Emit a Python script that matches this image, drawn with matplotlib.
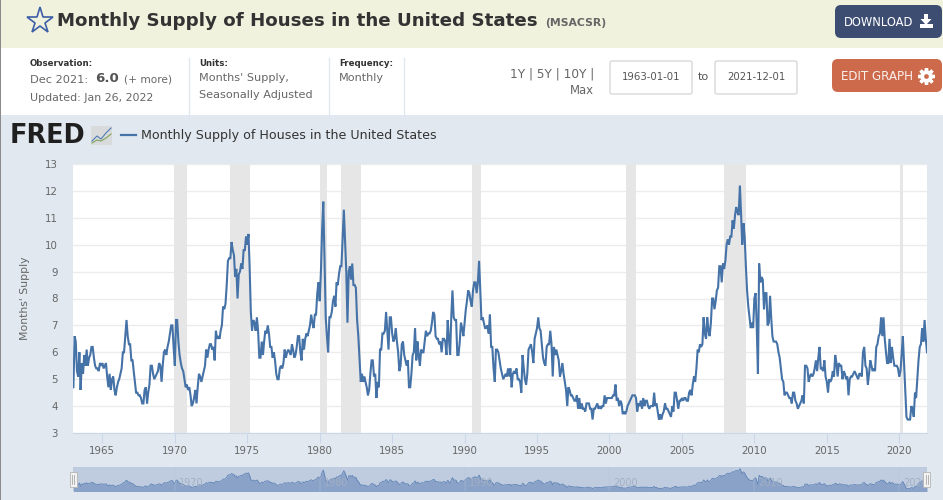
#!/usr/bin/env python3
"""
FRED page: Monthly Supply of Houses in the United States (MSACSR)
"""

import matplotlib
matplotlib.use('Agg')
import matplotlib.pyplot as plt
import matplotlib.dates as mdates
from matplotlib.patches import FancyBboxPatch, Rectangle, Polygon
import numpy as np
import pandas as pd

# values, one row per year
supply_rows = [
    [4.7, 6.6, 6.4, 5.3, 5.1, 6.0, 4.6, 5.6, 5.2, 5.9, 5.5, 6.1],  # 1963
    [5.5, 5.8, 5.9, 6.2, 6.2, 5.8, 5.5, 5.4, 5.4, 5.3, 5.6, 5.5],
    [5.6, 5.4, 5.5, 5.6, 5.1, 4.7, 5.2, 4.6, 5.0, 5.1, 4.6, 4.4],  # 1965
    [4.7, 4.9, 5.0, 5.2, 5.4, 6.0, 6.0, 6.6, 7.2, 6.6, 6.3, 6.3],
    [5.7, 5.7, 5.3, 4.9, 4.5, 4.5, 4.4, 4.4, 4.3, 4.1, 4.1, 4.6],
    [4.7, 4.1, 4.5, 4.8, 5.5, 5.5, 5.2, 5.0, 5.1, 5.2, 5.3, 5.6],
    [5.5, 4.9, 5.5, 6.0, 6.1, 5.9, 6.2, 6.4, 6.7, 7.0, 7.0, 6.2],
    [5.5, 7.2, 7.2, 6.4, 5.9, 5.6, 5.4, 5.3, 5.0, 4.7, 4.8, 4.6],  # 1970
    [4.7, 4.4, 4.0, 4.1, 4.3, 4.6, 4.1, 4.7, 5.2, 5.1, 4.9, 5.1],
    [5.3, 5.5, 6.1, 5.8, 6.1, 6.3, 6.3, 6.1, 6.2, 5.7, 6.8, 6.5],
    [6.6, 6.5, 6.8, 7.0, 7.7, 7.6, 7.8, 8.5, 9.4, 9.5, 9.5, 10.1],
    [9.8, 9.6, 8.8, 9.1, 8.0, 8.9, 9.0, 9.3, 9.1, 9.8, 9.8, 10.3],
    [10.0, 10.4, 9.2, 7.5, 6.8, 7.2, 7.1, 6.8, 7.3, 6.8, 5.8, 5.8],  # 1975
    [6.4, 5.9, 6.4, 6.8, 6.7, 7.0, 6.7, 6.2, 6.2, 5.8, 6.0, 5.7],
    [5.2, 5.0, 5.0, 5.4, 5.5, 5.4, 5.6, 6.1, 5.8, 6.0, 6.1, 6.0],
    [5.9, 6.3, 6.1, 5.8, 5.9, 6.2, 6.6, 6.6, 6.0, 5.7, 6.5, 6.1],
    [6.5, 6.7, 6.6, 6.8, 7.0, 7.4, 7.1, 6.9, 7.4, 7.4, 8.2, 8.6],
    [7.9, 9.0, 10.5, 11.6, 9.5, 7.3, 6.6, 6.0, 7.3, 7.3, 7.5, 7.9],  # 1980
    [8.1, 7.7, 8.6, 8.5, 8.9, 9.2, 9.2, 10.2, 11.3, 10.2, 9.0, 7.1],
    [9.0, 9.2, 8.7, 9.3, 8.5, 8.5, 8.4, 7.2, 6.6, 5.8, 4.9, 5.2],
    [4.9, 5.1, 4.9, 4.7, 4.4, 4.6, 5.2, 5.7, 5.7, 5.1, 5.2, 4.3],
    [4.9, 4.7, 6.1, 6.1, 6.7, 6.7, 6.8, 7.5, 6.8, 6.1, 7.3, 7.3],
    [6.7, 6.4, 6.5, 6.9, 6.4, 6.0, 5.3, 5.5, 6.3, 6.4, 5.9, 5.7],  # 1985
    [5.5, 5.7, 4.7, 4.7, 5.2, 5.9, 6.0, 6.9, 5.7, 6.4, 5.9, 5.5],
    [6.1, 6.0, 6.0, 6.4, 6.8, 6.6, 6.7, 6.7, 6.8, 7.1, 7.5, 7.4],
    [6.6, 6.5, 6.5, 6.3, 6.4, 6.0, 6.5, 6.5, 6.4, 5.9, 7.2, 6.5],
    [5.9, 7.4, 8.3, 7.3, 7.2, 7.2, 5.9, 5.9, 6.4, 7.1, 6.9, 6.6],
    [7.1, 7.6, 7.9, 8.3, 8.2, 7.9, 7.7, 8.3, 8.6, 8.6, 8.2, 8.6],  # 1990
    [9.4, 8.3, 7.2, 7.3, 7.1, 6.9, 6.9, 7.0, 6.7, 7.4, 6.2, 6.2],
    [5.4, 4.9, 6.1, 6.1, 6.0, 5.7, 5.4, 5.2, 5.0, 5.1, 5.2, 5.1],
    [5.4, 5.1, 5.4, 4.7, 5.2, 5.3, 5.2, 5.4, 5.0, 5.0, 4.9, 4.5],
    [5.9, 5.4, 5.0, 4.8, 5.2, 6.1, 6.2, 6.3, 6.0, 5.6, 6.5, 6.7],
    [6.9, 7.3, 6.9, 6.8, 6.3, 5.8, 5.6, 5.5, 6.2, 6.3, 6.3, 6.8],  # 1995
    [6.3, 5.1, 6.2, 5.9, 6.1, 5.9, 5.7, 5.1, 5.3, 5.6, 5.2, 4.9],
    [4.6, 4.0, 4.7, 4.6, 4.4, 4.4, 4.3, 4.2, 4.2, 4.4, 3.9, 4.3],
    [3.9, 4.1, 3.9, 3.9, 3.8, 4.1, 4.1, 4.1, 3.9, 3.9, 3.5, 3.9],
    [3.9, 4.0, 4.1, 3.9, 4.0, 3.9, 4.0, 4.0, 4.4, 4.1, 4.3, 4.3],
    [4.3, 4.3, 4.3, 4.4, 4.4, 4.8, 4.2, 4.3, 4.0, 4.2, 4.1, 3.7],  # 2000
    [3.8, 3.7, 3.8, 4.0, 4.1, 4.2, 4.3, 4.4, 4.4, 4.4, 4.3, 3.8],
    [4.1, 4.0, 4.2, 3.9, 4.3, 4.0, 4.2, 4.2, 4.0, 3.9, 4.0, 4.0],
    [4.0, 4.5, 4.0, 4.1, 3.8, 3.5, 3.7, 3.5, 3.7, 3.8, 4.1, 3.9],
    [3.9, 3.8, 3.7, 3.6, 4.0, 3.8, 4.5, 4.5, 4.2, 3.9, 4.2, 4.2],
    [4.3, 4.2, 4.3, 4.3, 4.2, 4.2, 4.5, 4.6, 4.4, 4.8, 5.1, 4.9],  # 2005
    [5.4, 6.1, 6.0, 6.3, 6.2, 6.3, 7.3, 6.7, 6.5, 7.3, 6.8, 6.6],
    [7.1, 8.0, 8.0, 7.6, 7.9, 8.3, 8.4, 9.2, 9.2, 8.6, 9.3, 9.1],
    [9.4, 10.0, 10.2, 10.0, 10.3, 10.3, 10.9, 10.6, 11.1, 11.4, 11.2, 11.1],
    [12.2, 11.1, 10.0, 10.8, 10.3, 9.2, 8.3, 7.7, 7.3, 6.9, 7.1, 6.9],
    [8.0, 8.2, 7.0, 5.2, 9.3, 8.6, 8.8, 8.7, 7.6, 8.2, 8.2, 7.0],  # 2010
    [7.1, 8.1, 7.3, 6.6, 6.4, 6.4, 6.4, 6.3, 6.0, 5.8, 5.4, 5.0],
    [4.9, 4.4, 4.5, 4.5, 4.4, 4.3, 4.3, 4.1, 4.5, 4.5, 4.2, 4.1],
    [3.9, 4.0, 4.1, 4.2, 4.4, 4.1, 5.5, 5.5, 5.4, 4.9, 5.1, 5.2],
    [5.1, 5.2, 5.4, 5.7, 5.3, 5.8, 6.2, 5.4, 5.4, 5.3, 5.7, 5.1],
    [4.9, 4.5, 5.0, 4.9, 5.0, 5.3, 5.1, 5.9, 5.6, 5.1, 5.6, 5.5],  # 2015
    [5.5, 5.0, 5.3, 5.2, 5.0, 5.1, 4.4, 5.0, 5.1, 5.1, 5.2, 5.3],
    [5.2, 5.1, 5.0, 5.2, 5.2, 5.1, 6.0, 6.2, 5.5, 5.4, 4.8, 5.2],
    [5.7, 5.5, 5.3, 5.4, 5.3, 6.2, 6.3, 6.6, 6.7, 7.3, 6.6, 7.3],
    [6.5, 6.0, 5.6, 5.6, 6.5, 5.6, 6.2, 5.8, 5.5, 5.5, 5.5, 5.4],
    [5.1, 5.3, 5.9, 6.6, 5.6, 4.5, 3.6, 3.5, 3.5, 3.5, 4.0, 3.9],  # 2020
    [3.6, 4.5, 4.3, 5.0, 5.7, 6.2, 6.3, 6.9, 6.4, 7.2, 6.5, 6.0],
]
recession_starts = ['1969-12-01', '1973-11-01', '1980-01-01', '1981-07-01',
                    '1990-07-01', '2001-03-01', '2007-12-01', '2020-02-01']
recession_ends = ['1970-11-01', '1975-03-01', '1980-07-01', '1982-11-01',
                  '1991-03-01', '2001-11-01', '2009-06-01', '2020-04-01']
y_ticks = [3, 4, 5, 6, 7, 8, 9, 10, 11, 12, 13]
main_years = [1965, 1970, 1975, 1980, 1985, 1990, 1995, 2000, 2005, 2010, 2015, 2020]
nav_years = [1970, 1980, 1990, 2000, 2010, 2020]

supply = np.concatenate(supply_rows)
dates = pd.date_range('1963-01-01', periods=len(supply), freq='MS')

W, H = 943, 500
LINE = '#4572a7'
GREY = '#666666'
PANEL = '#e1e8f0'

fig = plt.figure(figsize=(W / 100, H / 100), dpi=100, facecolor='white')

# page chrome drawn in pixel coordinates
page = fig.add_axes([0, 0, 1, 1])
page.set_xlim(0, W)
page.set_ylim(H, 0)
page.axis('off')

page.add_patch(Rectangle((0, 0), W, 48, facecolor='#f1f2de', edgecolor='none'))
page.add_patch(Rectangle((0, 115), W, 385, facecolor=PANEL, edgecolor='none'))
page.add_patch(Rectangle((0, 0), 1, H, facecolor='#8a8a8a', edgecolor='none'))

# title bar
page.plot([40], [21], marker='*', ms=20, mfc='none', mec='#3b5ea6', mew=1.2)
page.text(57, 21, 'Monthly Supply of Houses in the United States', fontsize=13.15,
          fontweight='bold', color='#333333', va='center')
page.text(545, 23.5, '(MSACSR)', fontsize=7.8, fontweight='bold', color='#666666', va='center')


def button(x, y, w, h, color):
    page.add_patch(FancyBboxPatch((x + 6, y + 6), w - 12, h - 12,
                                  boxstyle='round,pad=6', facecolor=color, edgecolor='none'))


button(835, 5, 107, 33, '#3d4d72')
page.text(844, 22, 'DOWNLOAD', fontsize=8.3, color='white', va='center')
page.add_patch(Polygon([[924, 14], [928, 14], [928, 19], [931.5, 19], [926, 25], [920.5, 19], [924, 19]],
                       facecolor='white', edgecolor='none'))
page.add_patch(Rectangle((919.5, 24), 13, 4, facecolor='white', edgecolor='none'))

# observation block
page.text(30, 63, 'Observation:', fontsize=6.2, fontweight='bold', color='#333333', va='center')
page.text(30, 80, 'Dec 2021:', fontsize=8.2, color=GREY, va='center')
page.text(95.5, 79, '6.0', fontsize=9.6, fontweight='bold', color='#555555', va='center')
page.text(124, 80, '(+ more)', fontsize=7.6, color=GREY, va='center')
page.text(30, 98, 'Updated: Jan 26, 2022', fontsize=7.9, color=GREY, va='center')
page.text(199, 63, 'Units:', fontsize=6.2, fontweight='bold', color='#333333', va='center')
page.text(199, 78, "Months' Supply,", fontsize=8.1, color=GREY, va='center')
page.text(199, 95, 'Seasonally Adjusted', fontsize=8.1, color=GREY, va='center')
page.text(339, 63, 'Frequency:', fontsize=6.2, fontweight='bold', color='#333333', va='center')
page.text(339, 78, 'Monthly', fontsize=8.1, color=GREY, va='center')
for sep_x in [188.5, 328.5, 403.5]:
    page.plot([sep_x, sep_x], [58, 115], color='#dfe7ee', lw=0.9)

# date range controls
page.text(594, 74, '1Y | 5Y | 10Y |', fontsize=8.7, color=GREY, va='center', ha='right')
page.text(594, 90, 'Max', fontsize=8.4, color=GREY, va='center', ha='right')
for box_x, label in [(610, '1963-01-01'), (715, '2021-12-01')]:
    page.add_patch(FancyBboxPatch((box_x + 2, 63), 78, 29, boxstyle='round,pad=2',
                                  facecolor='white', edgecolor='#d5d5d5', lw=0.9))
    page.text(box_x + 41, 77, label, fontsize=7.3, color='#555555', va='center', ha='center')
page.text(703, 77, 'to', fontsize=8.1, color='#555555', va='center', ha='center')
button(832, 59, 110, 33, '#cc6a4b')
page.text(841, 76, 'EDIT GRAPH', fontsize=8.6, color='white', va='center', alpha=0.9)
# gear icon
page.plot([926], [75.5], marker=(8, 2, 0), ms=12, mec='white', mew=2.4)
page.plot([926], [75.5], marker='o', ms=9, mfc='white', mec='none')
page.plot([926], [75.5], marker='o', ms=3.4, mfc='#cc6a4b', mec='none')

# FRED logo and legend
page.text(10, 136, 'FRED', fontsize=18.4, fontweight='bold', color='#1f1f1f', va='center')
page.add_patch(Rectangle((91, 126), 21, 19, facecolor='#d9dadb', edgecolor='none'))
page.plot([92, 97, 101, 106, 111], [141, 136, 139, 133, 128], color='#4f7cb5', lw=0.8)
page.plot([92, 97, 101, 106, 111], [143, 140, 141, 138, 134], color='#7fa35a', lw=0.8)
page.plot([121, 136], [134.5, 134.5], color=LINE, lw=1.6)
page.text(141, 135.5, 'Monthly Supply of Houses in the United States', fontsize=9.1,
          color='#333333', va='center')

# main chart
ax = fig.add_axes([73.4 / W, 1 - 433 / H, (927 - 73.4) / W, (433 - 164) / H])
ax.set_facecolor('white')
for s, e in zip(recession_starts, recession_ends):
    ax.axvspan(pd.Timestamp(s), pd.Timestamp(e), facecolor='#e6e6e6', edgecolor='none', zorder=1)
ax.plot(dates, supply, color=LINE, lw=1.5, solid_joinstyle='miter', zorder=3)
ax.set_xlim(dates[0], dates[-1])
ax.set_ylim(3, 13)
ax.set_yticks(y_ticks)
ax.set_xticks([pd.Timestamp(year=y, month=1, day=1) for y in main_years])
ax.xaxis.set_major_formatter(mdates.DateFormatter('%Y'))
ax.yaxis.grid(True, color='#ececec', lw=1, zorder=0)
ax.set_axisbelow(True)
for side in ['top', 'left', 'right']:
    ax.spines[side].set_visible(False)
ax.spines['bottom'].set_color('#ccd6eb')
ax.tick_params(axis='x', length=7, width=0.8, color='#ccd6eb', labelcolor=GREY, labelsize=7.4, pad=2)
ax.tick_params(axis='y', length=0, labelcolor=GREY, labelsize=7.4, pad=11)
ax.set_ylabel("Months' Supply", fontsize=7.8, color=GREY, labelpad=11)

# range navigator below the chart
nav = fig.add_axes([73.4 / W, 1 - 491 / H, (927 - 73.4) / W, 24 / H])
nav.set_facecolor('#bfcce0')
nav.fill_between(dates, 0, supply, color='#8aa2c8', lw=0)
nav.plot(dates, supply, color='#5f83b5', lw=0.6)
nav.set_xlim(dates[0], dates[-1])
nav.set_ylim(2.5, 12.9)
nav.set_xticks([])
nav.set_yticks([])
for side in nav.spines:
    nav.spines[side].set_visible(False)
for year in nav_years:
    when = pd.Timestamp(year=year, month=1, day=1)
    nav.axvline(when, color='#b8c4d8', lw=0.3)
    nav.annotate(str(year), xy=(when, 6), xytext=(3, 0), textcoords='offset points', fontsize=7,
                 color='#a3afc2', ha='left', va='center', annotation_clip=False, clip_on=True)

# navigator handles sit on top of the page layer
top = fig.add_axes([0, 0, 1, 1], facecolor='none')
top.set_xlim(0, W)
top.set_ylim(H, 0)
top.axis('off')
for hx in [73, 926.5]:
    top.add_patch(Rectangle((hx - 3.5, 472), 7, 15, facecolor='#f2f2f2', edgecolor='#b5b5b5', lw=0.6))
    top.plot([hx - 1, hx - 1], [475, 484], color='#999999', lw=0.5)
    top.plot([hx + 1, hx + 1], [475, 484], color='#999999', lw=0.5)

plt.savefig('out.png', dpi=100, facecolor='white')
plt.close()
